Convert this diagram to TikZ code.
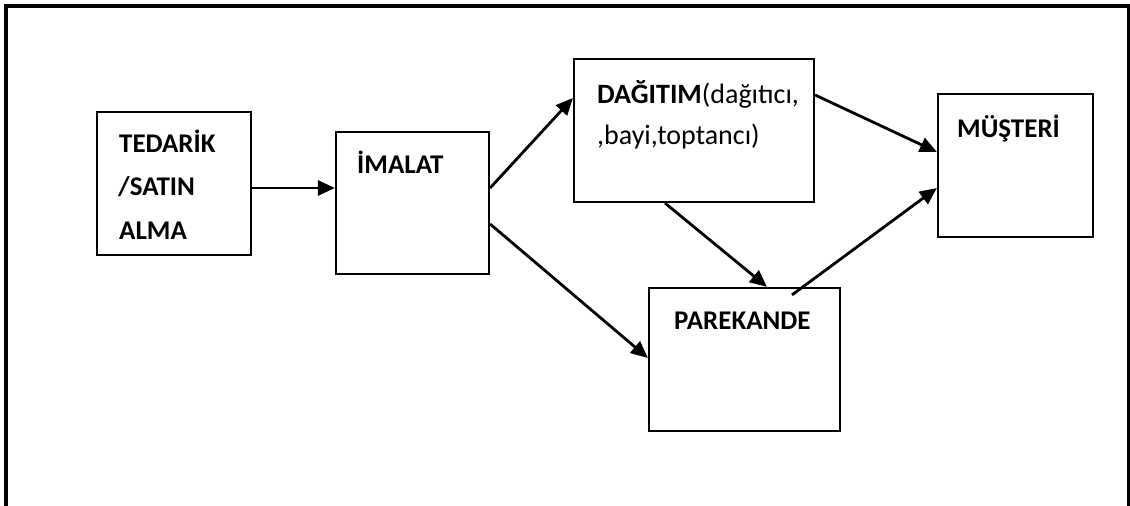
\documentclass[tikz,border=0pt]{standalone}
\usepackage{fontspec}
\setmainfont{Carlito}
\usetikzlibrary{arrows.meta}
\tikzset{
  stagebox/.style={draw, line width=2.2pt, rectangle, inner sep=0pt, fill=white},
  flow/.style={line width=2.8pt, -{Triangle[length=17pt,width=15pt]}},
  lbl/.style={anchor=base west, inner sep=0pt, font=\fontsize{27}{27}\selectfont\bfseries},
  lblr/.style={anchor=base west, inner sep=0pt, font=\fontsize{28}{28}\selectfont},
}
\begin{document}
\begin{tikzpicture}[x=1pt, y=-1pt]
\useasboundingbox (0,0) rectangle (1130,506);
% open frame round the chart
\draw[line width=4pt] (5.5,506) -- (5.5,5.5) -- (1128.5,5.5) -- (1128.5,506);

% stages of the supply chain
\node[stagebox, minimum width=154pt, minimum height=143pt] (b1) at (174,183.5) {};
\node[stagebox, minimum width=153pt, minimum height=142pt] (b2) at (412.5,203) {};
\node[stagebox, minimum width=240pt, minimum height=143pt] (b3) at (694,130.5) {};
\node[stagebox, minimum width=155pt, minimum height=143pt] (b4) at (1015.5,165.5) {};
\node[stagebox, minimum width=191pt, minimum height=143pt] (b5) at (744.5,359.5) {};

% labels
\node[lbl] (t1a) at (119,152) {TEDARİK};
\node[lbl] (t1b) at (118,195) {/SATIN};
\node[lbl] (t1c) at (119,239) {ALMA};
\node[lbl] (t2) at (357,173) {İMALAT};
\node[lblr] (t3a) at (597,103) {\textbf{DAĞITIM}(dağıtıcı,};
\node[lblr] (t3b) at (597,144) {,bayi,toptancı)};
\node[lbl] (t4) at (957,137) {MÜŞTERİ};
\node[lbl] (t5) at (674,329) {PAREKANDE};

% flows
\draw[flow] ([yshift=-4.5pt]b1.east) -- ([yshift=15pt]b2.west);
\draw[flow] ([yshift=15pt]b2.east) -- ([yshift=32.5pt]b3.west);
\draw[flow] ([yshift=-21pt]b2.east) -- ([yshift=1.5pt]b5.west);
\draw[flow] ([yshift=35.5pt]b3.east) -- ([yshift=13.5pt]b4.west);
\draw[flow] ([xshift=-29pt]b3.south) -- ([xshift=22.5pt]b5.north);
\draw[flow] ([xshift=47.5pt,yshift=-8pt]b5.north) -- ([yshift=-22.5pt]b4.west);
\end{tikzpicture}
\end{document}
